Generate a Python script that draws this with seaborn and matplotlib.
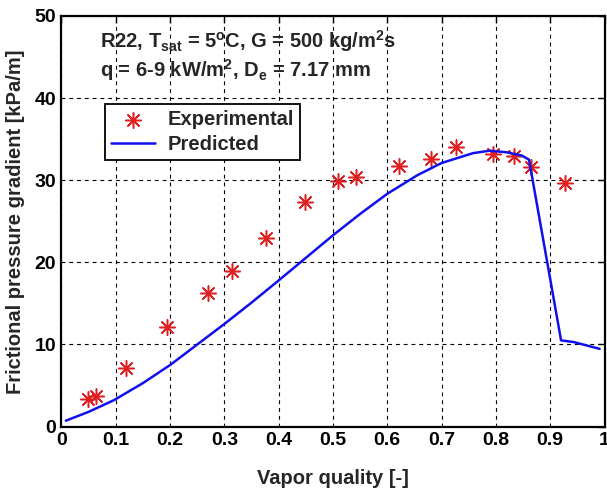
import matplotlib
matplotlib.use("Agg")
import matplotlib.pyplot as plt
import seaborn as sns
import pandas as pd

# Experimental data
exp_x = [0.049, 0.064, 0.119, 0.195, 0.270, 0.314, 0.376, 0.448, 0.509, 0.542,
         0.622, 0.681, 0.727, 0.794, 0.833, 0.865, 0.927]
exp_y = [3.35, 3.75, 7.1, 12.1, 16.3, 18.9, 23.0, 27.3, 29.85, 30.45,
         31.7, 32.6, 34.0, 33.2, 32.9, 31.6, 29.7]

# Predicted curve
pred_x = [0.008, 0.05, 0.096, 0.15, 0.2, 0.25, 0.3, 0.35, 0.4, 0.44, 0.5, 0.55,
          0.6, 0.655, 0.7, 0.758, 0.789, 0.82, 0.848, 0.861, 0.92, 0.943, 0.991]
pred_y = [0.72, 1.8, 3.2, 5.3, 7.5, 10.0, 12.5, 15.1, 17.8, 20.0, 23.3, 25.9,
          28.35, 30.6, 32.1, 33.3, 33.6, 33.4, 33.0, 32.5, 10.5, 10.3, 9.47]

x_ticks = [0, 0.1, 0.2, 0.3, 0.4, 0.5, 0.6, 0.7, 0.8, 0.9, 1]
x_tick_labels = ["0", "0.1", "0.2", "0.3", "0.4", "0.5", "0.6", "0.7", "0.8", "0.9", "1"]
y_ticks = [0, 10, 20, 30, 40, 50]

sns.set_style("white")
plt.rcParams["font.family"] = ["Liberation Sans", "DejaVu Sans"]
plt.rcParams["font.weight"] = "bold"
plt.rcParams["mathtext.default"] = "regular"

LABEL_FS = 14.5
TICK_FS = 14

fig = plt.figure(figsize=(6.07, 4.92), dpi=100)
ax = fig.add_axes([0.1013, 0.1329, 0.8946, 0.8346])

df_exp = pd.DataFrame({"x": exp_x, "y": exp_y})
df_pred = pd.DataFrame({"x": pred_x, "y": pred_y})

sns.scatterplot(data=df_exp, x="x", y="y", ax=ax, marker=(8, 2, 0), s=125,
                color="#e02020", edgecolor="#e02020", linewidth=1.1,
                label="Experimental", zorder=3)
sns.lineplot(data=df_pred, x="x", y="y", ax=ax, color="#1010ee", linewidth=1.8,
             label="Predicted", sort=False, estimator=None, zorder=4)

ax.set_xlim(0, 1)
ax.set_ylim(0, 50)
ax.set_xticks(x_ticks)
ax.set_xticklabels(x_tick_labels)
ax.set_yticks(y_ticks)
ax.grid(True, color="black", linestyle=(0, (3.5, 3.5)), linewidth=0.8)
ax.tick_params(direction="in", length=5, width=1, top=True, right=True,
               labelsize=TICK_FS, pad=4, colors="black")
for lab in ax.get_xticklabels() + ax.get_yticklabels():
    lab.set_fontweight("bold")
for sp in ax.spines.values():
    sp.set_color("black")
    sp.set_linewidth(1.6)

ax.set_xlabel("Vapor quality [-]", fontsize=LABEL_FS, fontweight="bold", labelpad=14)
ax.set_ylabel("Frictional pressure gradient [kPa/m]", fontsize=LABEL_FS,
              fontweight="bold", labelpad=7)

ax.text(0.071, 46.15, r"R22, T$_{sat}$ = 5$^{o}$C, G = 500 kg/m$^{2}$s",
        fontsize=LABEL_FS, fontweight="bold", va="baseline", ha="left")
ax.text(0.071, 42.6, r"q = 6-9 kW/m$^{2}$, D$_{e}$ = 7.17 mm",
        fontsize=LABEL_FS, fontweight="bold", va="baseline", ha="left")

leg = ax.legend(loc="upper left", bbox_to_anchor=(0.08, 0.786), frameon=True,
                fancybox=False, edgecolor="black",
                prop={"weight": "bold", "size": LABEL_FS}, borderpad=0.3,
                borderaxespad=0, handlelength=2.2, handletextpad=0.6,
                labelspacing=0.3)
leg.get_frame().set_linewidth(1.3)
leg.get_frame().set_alpha(1)

fig.savefig("out.png", dpi=100)
